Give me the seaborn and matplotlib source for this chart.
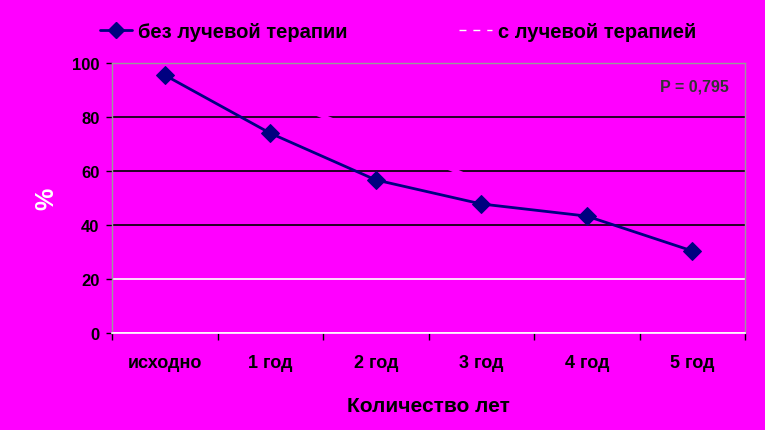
import pandas as pd
import numpy as np
import matplotlib.pyplot as plt
import seaborn as sns
from matplotlib.lines import Line2D

# data
years = ['исходно', '1 год', '2 год', '3 год', '4 год', '5 год']
no_radio = [95.5, 74, 56.7, 47.8, 43.3, 30.4]
with_radio = [96, 88, 72.5, 56, np.nan, np.nan]
p_text = 'P = 0,795'

MAG = '#FF00FF'
NAVY = '#000080'

sns.set_style('white')
plt.rcParams['font.family'] = ['Liberation Sans', 'DejaVu Sans']
plt.rcParams['font.weight'] = 'bold'
plt.rcParams['text.color'] = 'black'
plt.rcParams['xtick.color'] = 'black'
plt.rcParams['ytick.color'] = 'black'

df = pd.DataFrame({'year': years, 'no': no_radio, 'with': with_radio})

fig = plt.figure(figsize=(7.65, 4.31), dpi=100, facecolor=MAG)
ax = fig.add_axes([0.1464, 0.225, 0.8275, 0.6265])
ax.set_facecolor(MAG)

# second series is drawn in the background colour, so it only eats into the grid
sns.lineplot(data=df, x='year', y='with', ax=ax, color=MAG, lw=3, zorder=3, sort=False)
sns.lineplot(data=df, x='year', y='no', ax=ax, color=NAVY, lw=2, marker='D',
             markersize=9, markeredgecolor=NAVY, zorder=4, sort=False)

ax.set_ylim(0, 100)
ax.set_xlim(-0.5, 5.5)
ax.set_yticks([0, 20, 40, 60, 80, 100])
ax.set_yticklabels(['0', '20', '40', '60', '80', '100'], fontsize=12, fontweight='bold')
ax.tick_params(axis='y', length=4, width=1, color='black', pad=5, left=True)

# category boundaries as tick marks, labels in the middle
ax.set_xticks(np.arange(-0.5, 6, 1))
ax.set_xticklabels([])
ax.set_xticks(np.arange(6), minor=True)
ax.set_xticklabels(years, minor=True, fontsize=13, fontweight='bold')
ax.tick_params(axis='x', which='major', length=5, width=1, color='black', bottom=True)
ax.tick_params(axis='x', which='minor', length=0, pad=15)

ax.yaxis.grid(True, lw=1.2)
for val, gl in zip(ax.get_yticks(), ax.get_ygridlines()):
    gl.set_color('black' if 40 <= val <= 80 else ('gray' if val == 100 else 'white'))
    gl.set_zorder(1)
ax.set_axisbelow(True)

for s in ['top', 'right', 'left']:
    ax.spines[s].set_color('#999999')
    ax.spines[s].set_linewidth(1)
ax.spines['bottom'].set_color('white')
ax.spines['bottom'].set_linewidth(1.2)

ax.set_xlabel('Количество лет', fontsize=15, fontweight='bold', color='black', labelpad=18)
ax.set_ylabel('%', fontsize=18, fontweight='bold', color='white', labelpad=10)

ax.text(0.975, 0.915, p_text, transform=ax.transAxes, ha='right', va='center',
        fontsize=11.5, fontweight='bold', color='#333333')

handles = [Line2D([], [], color=NAVY, lw=2, marker='D', markersize=8),
           Line2D([], [], color='white', lw=1, ls=(0, (5, 5)))]
fig.legend(handles, ['без лучевой терапии', 'с лучевой терапией'],
           loc='center', bbox_to_anchor=(0.52, 0.925), ncol=2, frameon=False,
           prop={'size': 14.5, 'weight': 'bold'}, handlelength=1.6,
           handletextpad=0.3, columnspacing=5.55)

fig.savefig('out.png', dpi=100, facecolor=MAG)
